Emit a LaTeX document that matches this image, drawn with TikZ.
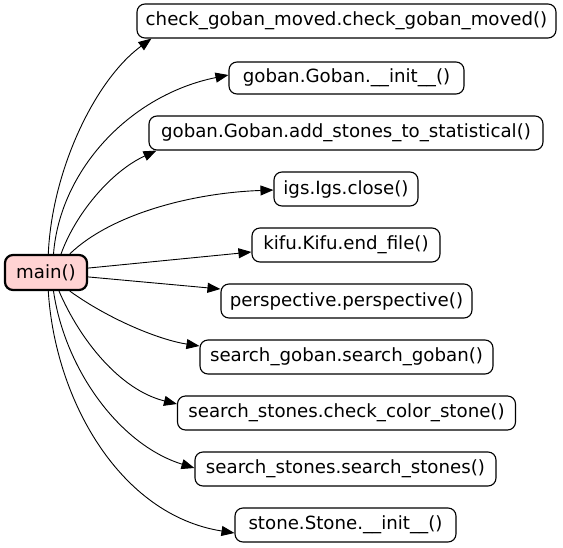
\documentclass[tikz,border=0pt]{standalone}
\usepackage{fontspec}
\setmainfont{DejaVu Sans}
\usetikzlibrary{arrows.meta}
\definecolor{mainpink}{RGB}{255,211,211}
\begin{document}
\begin{tikzpicture}[x=1pt,y=-1pt,
  fn/.style={draw=black,line width=1.1pt,rounded corners=8pt,minimum height=34pt,inner sep=0pt,font=\fontsize{18.2}{20}\selectfont,fill=white},
  mainfn/.style={fn,line width=2.2pt,fill=mainpink},
  call/.style={line width=0.9pt,-{Triangle[length=13pt,width=10pt]}}]
\useasboundingbox (0,0) rectangle (563,547);
\node[mainfn,minimum width=82pt,minimum height=35pt] (main) at (46,272.5) {main()};
\node[fn,minimum width=419pt] (n1) at (346.5,21) {check\_goban\_moved.check\_goban\_moved()};
\node[fn,minimum width=235pt,minimum height=32pt] (n2) at (346.5,78) {goban.Goban.\_\_init\_\_()};
\node[fn,minimum width=394pt] (n3) at (346,133) {goban.Goban.add\_stones\_to\_statistical()};
\node[fn,minimum width=144pt] (n4) at (346,189) {igs.Igs.close()};
\node[fn,minimum width=188pt] (n5) at (346,245) {kifu.Kifu.end\_file()};
\node[fn,minimum width=251pt] (n6) at (346.5,301) {perspective.perspective()};
\node[fn,minimum width=293pt] (n7) at (346.5,357) {search\_goban.search\_goban()};
\node[fn,minimum width=338pt] (n8) at (346.5,413) {search\_stones.check\_color\_stone()};
\node[fn,minimum width=301pt] (n9) at (345.5,469) {search\_stones.search\_stones()};
\node[fn,minimum width=221pt] (n10) at (345.5,525) {stone.Stone.\_\_init\_\_()};
\draw[call] (main.83) .. controls (52,170) and (95,80) .. ([xshift=15pt]n1.south west);
\draw[call] (main.68) .. controls (60,170) and (130,95) .. ([yshift=3pt]n2.west);
\draw[call] (main.51) .. controls (75,215) and (110,172) .. ([xshift=8pt]n3.south west);
\draw[call] (main.38.5) .. controls (110,215) and (190,193) .. ([yshift=-1pt]n4.west);
\draw[call] (main.6.3) -- ([yshift=-7pt]n5.west);
\draw[call] (main.-6.3) -- ([yshift=12pt]n6.west);
\draw[call] (main.-38.5) .. controls (110,320) and (160,340) .. ([yshift=11pt]n7.west);
\draw[call] (main.-55.6) .. controls (80,340) and (120,390) .. ([yshift=9pt]n8.west);
\draw[call] (main.-68) .. controls (65,370) and (120,445) .. ([yshift=1pt]n9.west);
\draw[call] (main.-83) .. controls (55,400) and (120,515) .. ([yshift=-8pt]n10.west);
\end{tikzpicture}
\end{document}
